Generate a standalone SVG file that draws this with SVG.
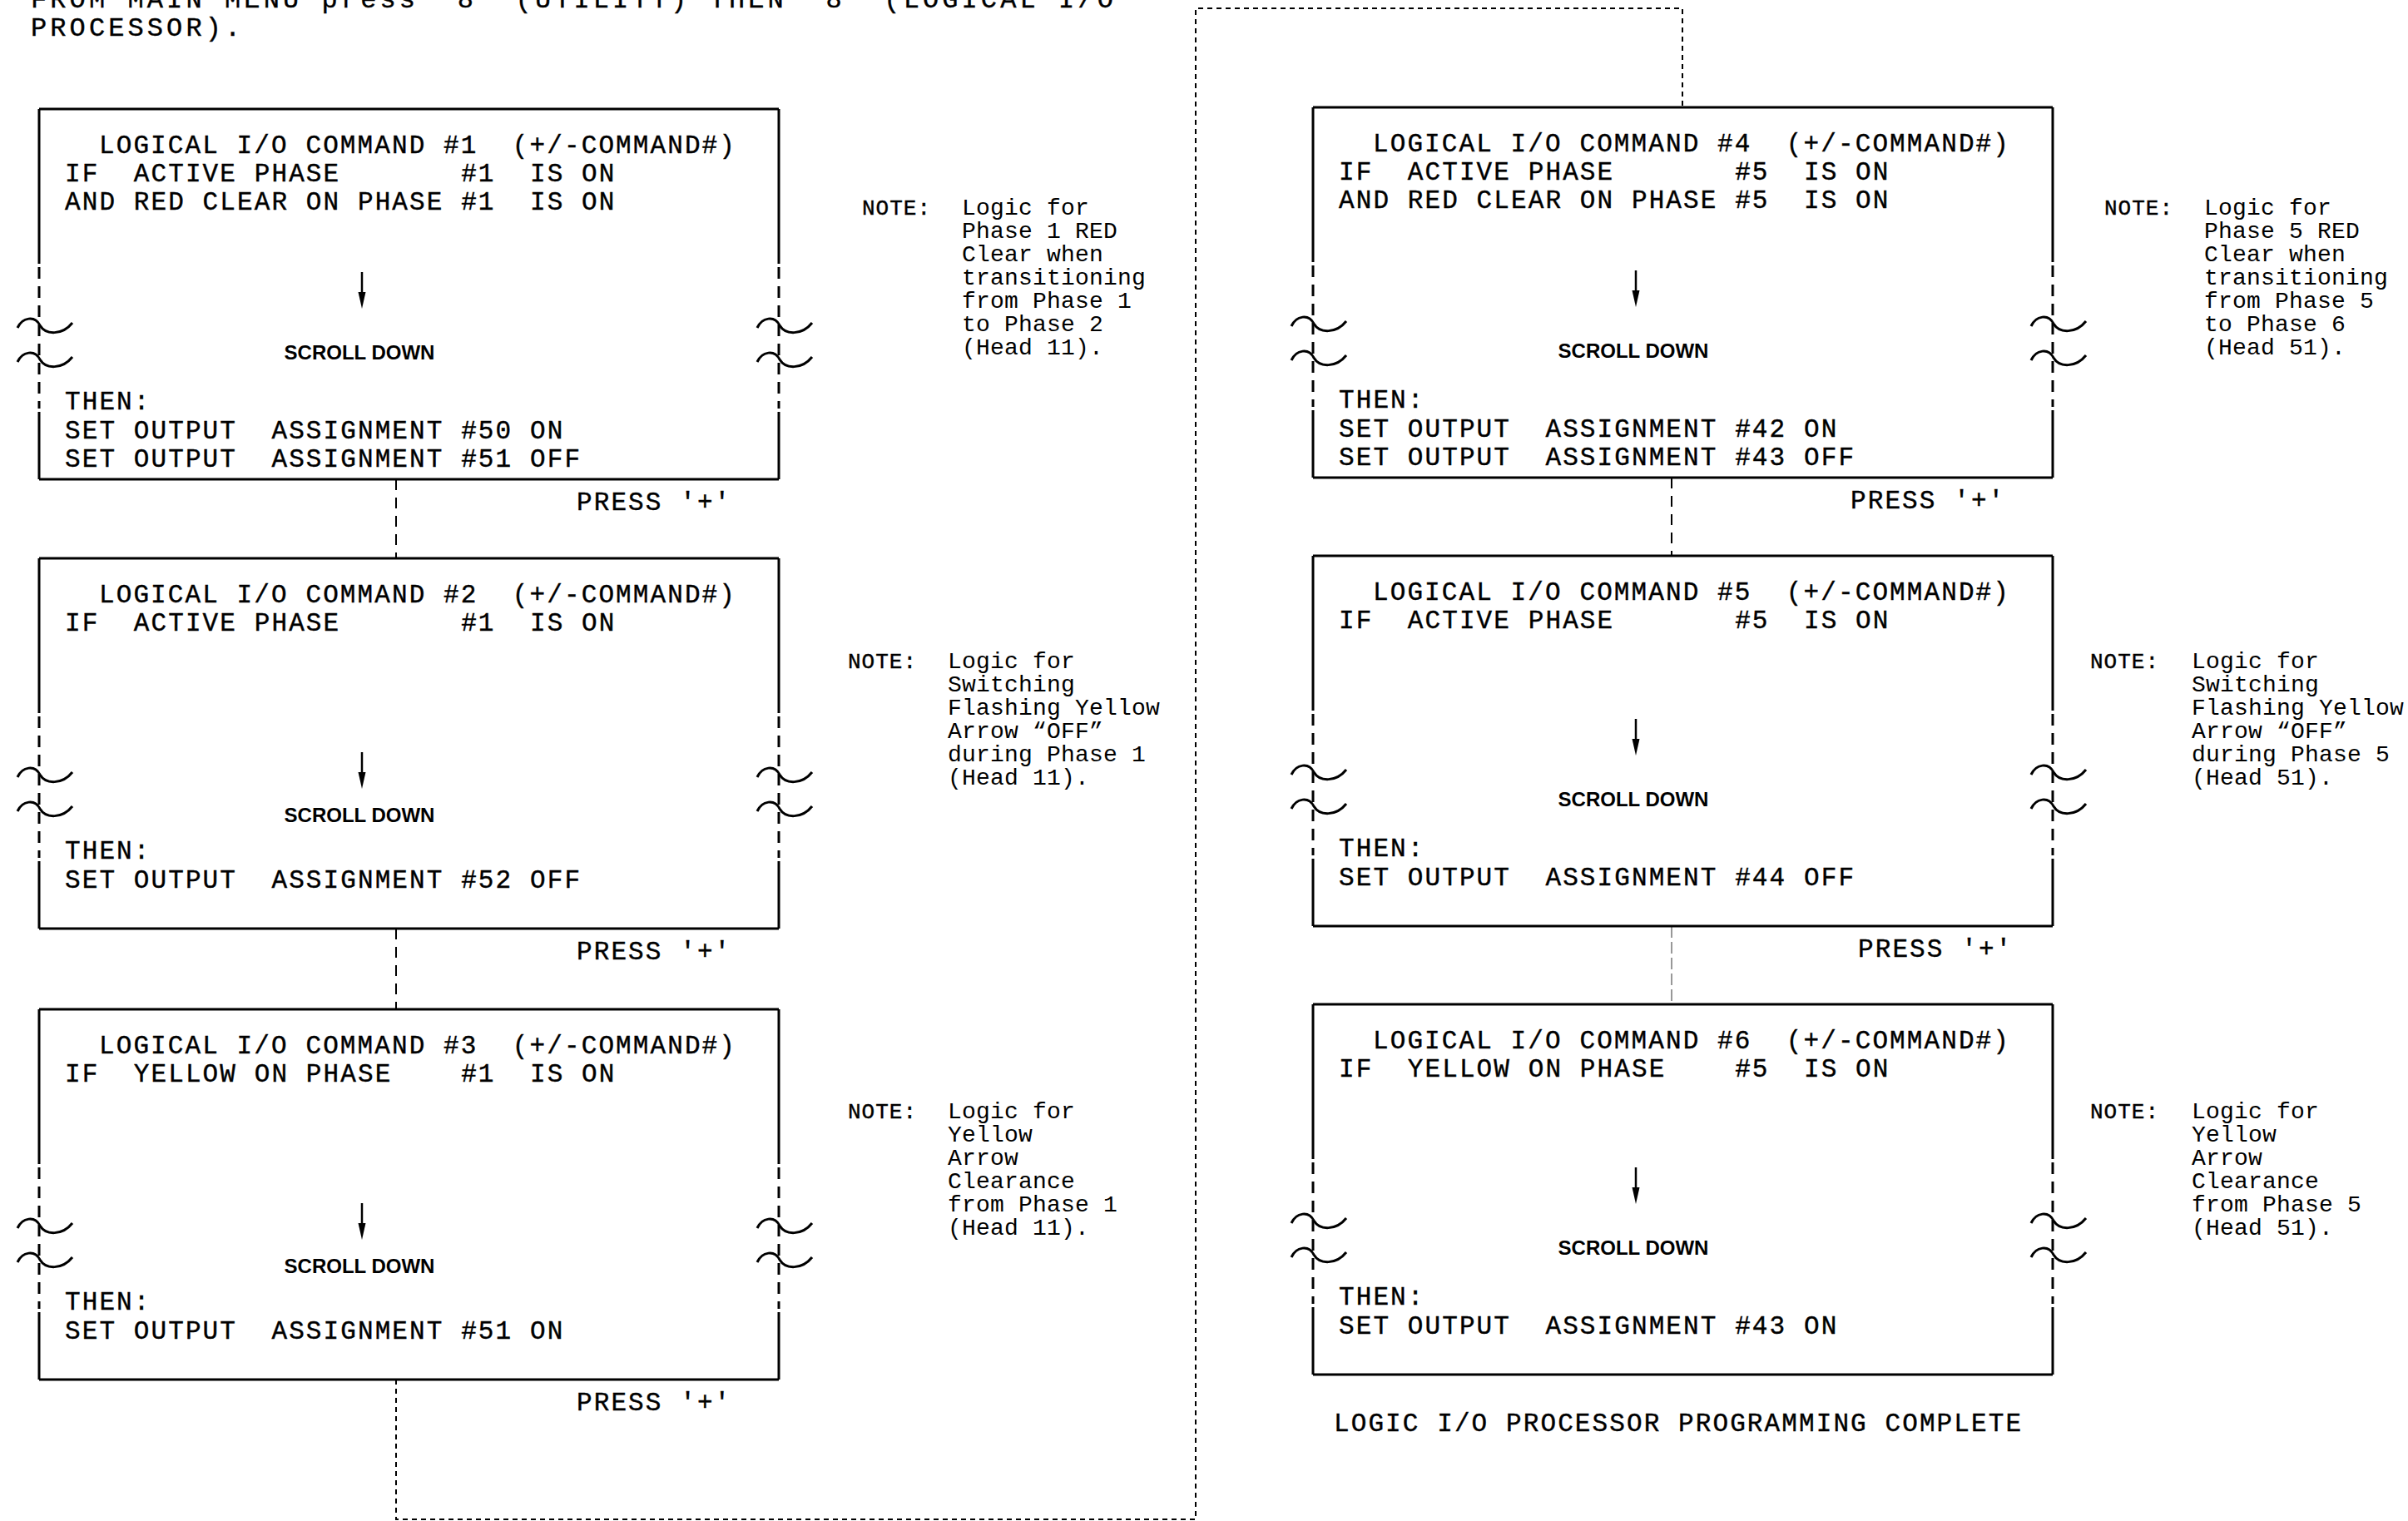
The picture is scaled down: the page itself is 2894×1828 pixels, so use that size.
<svg xmlns="http://www.w3.org/2000/svg" xmlns:xlink="http://www.w3.org/1999/xlink" width="2894" height="1828" viewBox="0 0 2894 1828" xml:space="preserve">
<style>
.ln{fill:none;stroke:#000;stroke-width:3}
.dsh{fill:none;stroke:#000;stroke-width:3;stroke-dasharray:14 9}
.t{font-family:"Liberation Mono","DejaVu Sans Mono",monospace;font-size:31px;letter-spacing:2.1px;fill:#000;stroke:#000;stroke-width:0.4px;white-space:pre}
.hd{font-family:"Liberation Mono","DejaVu Sans Mono",monospace;font-size:32px;letter-spacing:4.1px;fill:#000;stroke:#000;stroke-width:0.4px;white-space:pre}
.sd{font-family:"Liberation Sans",Arial,sans-serif;font-weight:bold;font-size:24px;fill:#000;text-anchor:middle}
.n{font-family:"Liberation Mono","DejaVu Sans Mono",monospace;font-size:28px;letter-spacing:0.2px;fill:#000;white-space:pre}
.nh{font-family:"Liberation Mono","DejaVu Sans Mono",monospace;font-size:26px;letter-spacing:1px;fill:#000;stroke:#000;stroke-width:0.4px}
.c{fill:none;stroke:#000;stroke-width:2;stroke-dasharray:13 9}
.cd{fill:none;stroke:#000;stroke-width:2;stroke-dasharray:6 5}
.cg{fill:none;stroke:#777;stroke-width:1.5;stroke-dasharray:14 5}
</style>
<defs>
<path id="tl" d="M-26,3 C-20,-10 -5,-12 1,0 C8,12 28,12 40,-3" class="ln"/>
<g id="frame">
<path class="ln" d="M0,0 H889 M0,445 H889 M0,0 V186 M0,364 V445 M889,0 V186 M889,364 V445"/>
<path class="dsh" d="M0,190 V360 M889,190 V360"/>
<use xlink:href="#tl" x="0" y="260"/>
<use xlink:href="#tl" x="0" y="301"/>
<use xlink:href="#tl" x="889" y="260"/>
<use xlink:href="#tl" x="889" y="301"/>
</g>
<g id="arrow">
<path d="M0,0 V27" stroke="#000" stroke-width="2.5" fill="none"/>
<polygon points="-4.5,24 4.5,24 0,44" fill="#000"/>
</g>
</defs>

<g id="heading">
<text class="hd" x="37" y="9">FROM MAIN MENU press '8' (UTILITY) THEN '8' (LOGICAL I/O</text>
<text class="hd" x="37" y="43">PROCESSOR).</text>
</g>

<g id="connectors">
<path class="c" d="M476,576 V671"/>
<path class="c" d="M476,1116 V1213"/>
<path class="cd" d="M476,1658 V1826 H1437 V10 H2022 V129"/>
<path class="c" d="M2009,574 V668"/>
<path class="cg" d="M2009,1113 V1207"/>
</g>

<g id="cmd1">
<use xlink:href="#frame" x="47" y="131"/>
<text class="t" x="119" y="184">LOGICAL I/O COMMAND #1  (+/-COMMAND#)</text>
<text class="t" x="78" y="218">IF  ACTIVE PHASE       #1  IS ON</text>
<text class="t" x="78" y="252">AND RED CLEAR ON PHASE #1  IS ON</text>
<use xlink:href="#arrow" x="435" y="327"/>
<text class="sd" x="432" y="432">SCROLL DOWN</text>
<text class="t" x="78" y="492">THEN:</text>
<text class="t" x="78" y="527">SET OUTPUT  ASSIGNMENT #50 ON</text>
<text class="t" x="78" y="561">SET OUTPUT  ASSIGNMENT #51 OFF</text>
</g>

<g id="cmd2">
<use xlink:href="#frame" x="47" y="671"/>
<text class="t" x="119" y="724">LOGICAL I/O COMMAND #2  (+/-COMMAND#)</text>
<text class="t" x="78" y="758">IF  ACTIVE PHASE       #1  IS ON</text>
<use xlink:href="#arrow" x="435" y="904"/>
<text class="sd" x="432" y="988">SCROLL DOWN</text>
<text class="t" x="78" y="1032">THEN:</text>
<text class="t" x="78" y="1067">SET OUTPUT  ASSIGNMENT #52 OFF</text>
</g>

<g id="cmd3">
<use xlink:href="#frame" x="47" y="1213"/>
<text class="t" x="119" y="1266">LOGICAL I/O COMMAND #3  (+/-COMMAND#)</text>
<text class="t" x="78" y="1300">IF  YELLOW ON PHASE    #1  IS ON</text>
<use xlink:href="#arrow" x="435" y="1446"/>
<text class="sd" x="432" y="1530">SCROLL DOWN</text>
<text class="t" x="78" y="1574">THEN:</text>
<text class="t" x="78" y="1609">SET OUTPUT  ASSIGNMENT #51 ON</text>
</g>

<g id="cmd4">
<use xlink:href="#frame" x="1578" y="129"/>
<text class="t" x="1650" y="182">LOGICAL I/O COMMAND #4  (+/-COMMAND#)</text>
<text class="t" x="1609" y="216">IF  ACTIVE PHASE       #5  IS ON</text>
<text class="t" x="1609" y="250">AND RED CLEAR ON PHASE #5  IS ON</text>
<use xlink:href="#arrow" x="1966" y="325"/>
<text class="sd" x="1963" y="430">SCROLL DOWN</text>
<text class="t" x="1609" y="490">THEN:</text>
<text class="t" x="1609" y="525">SET OUTPUT  ASSIGNMENT #42 ON</text>
<text class="t" x="1609" y="559">SET OUTPUT  ASSIGNMENT #43 OFF</text>
</g>

<g id="cmd5">
<use xlink:href="#frame" x="1578" y="668"/>
<text class="t" x="1650" y="721">LOGICAL I/O COMMAND #5  (+/-COMMAND#)</text>
<text class="t" x="1609" y="755">IF  ACTIVE PHASE       #5  IS ON</text>
<use xlink:href="#arrow" x="1966" y="864"/>
<text class="sd" x="1963" y="969">SCROLL DOWN</text>
<text class="t" x="1609" y="1029">THEN:</text>
<text class="t" x="1609" y="1064">SET OUTPUT  ASSIGNMENT #44 OFF</text>
</g>

<g id="cmd6">
<use xlink:href="#frame" x="1578" y="1207"/>
<text class="t" x="1650" y="1260">LOGICAL I/O COMMAND #6  (+/-COMMAND#)</text>
<text class="t" x="1609" y="1294">IF  YELLOW ON PHASE    #5  IS ON</text>
<use xlink:href="#arrow" x="1966" y="1403"/>
<text class="sd" x="1963" y="1508">SCROLL DOWN</text>
<text class="t" x="1609" y="1568">THEN:</text>
<text class="t" x="1609" y="1603">SET OUTPUT  ASSIGNMENT #43 ON</text>
</g>

<g id="press">
<text class="t" x="693" y="613">PRESS '+'</text>
<text class="t" x="693" y="1153">PRESS '+'</text>
<text class="t" x="693" y="1695">PRESS '+'</text>
<text class="t" x="2224" y="611">PRESS '+'</text>
<text class="t" x="2233" y="1150">PRESS '+'</text>
<text class="t" x="1603" y="1720">LOGIC I/O PROCESSOR PROGRAMMING COMPLETE</text>
</g>

<g id="note1">
<text class="nh" x="1036" y="258">NOTE:</text>
<text class="n" x="1156" y="258">Logic for</text>
<text class="n" x="1156" y="286">Phase 1 RED</text>
<text class="n" x="1156" y="314">Clear when</text>
<text class="n" x="1156" y="342">transitioning</text>
<text class="n" x="1156" y="370">from Phase 1</text>
<text class="n" x="1156" y="398">to Phase 2</text>
<text class="n" x="1156" y="426">(Head 11).</text>
</g>

<g id="note2">
<text class="nh" x="1019" y="803">NOTE:</text>
<text class="n" x="1139" y="803">Logic for</text>
<text class="n" x="1139" y="831">Switching</text>
<text class="n" x="1139" y="859">Flashing Yellow</text>
<text class="n" x="1139" y="887">Arrow “OFF”</text>
<text class="n" x="1139" y="915">during Phase 1</text>
<text class="n" x="1139" y="943">(Head 11).</text>
</g>

<g id="note3">
<text class="nh" x="1019" y="1344">NOTE:</text>
<text class="n" x="1139" y="1344">Logic for</text>
<text class="n" x="1139" y="1372">Yellow</text>
<text class="n" x="1139" y="1400">Arrow</text>
<text class="n" x="1139" y="1428">Clearance</text>
<text class="n" x="1139" y="1456">from Phase 1</text>
<text class="n" x="1139" y="1484">(Head 11).</text>
</g>

<g id="note4">
<text class="nh" x="2529" y="258">NOTE:</text>
<text class="n" x="2649" y="258">Logic for</text>
<text class="n" x="2649" y="286">Phase 5 RED</text>
<text class="n" x="2649" y="314">Clear when</text>
<text class="n" x="2649" y="342">transitioning</text>
<text class="n" x="2649" y="370">from Phase 5</text>
<text class="n" x="2649" y="398">to Phase 6</text>
<text class="n" x="2649" y="426">(Head 51).</text>
</g>

<g id="note5">
<text class="nh" x="2512" y="803">NOTE:</text>
<text class="n" x="2634" y="803">Logic for</text>
<text class="n" x="2634" y="831">Switching</text>
<text class="n" x="2634" y="859">Flashing Yellow</text>
<text class="n" x="2634" y="887">Arrow “OFF”</text>
<text class="n" x="2634" y="915">during Phase 5</text>
<text class="n" x="2634" y="943">(Head 51).</text>
</g>

<g id="note6">
<text class="nh" x="2512" y="1344">NOTE:</text>
<text class="n" x="2634" y="1344">Logic for</text>
<text class="n" x="2634" y="1372">Yellow</text>
<text class="n" x="2634" y="1400">Arrow</text>
<text class="n" x="2634" y="1428">Clearance</text>
<text class="n" x="2634" y="1456">from Phase 5</text>
<text class="n" x="2634" y="1484">(Head 51).</text>
</g>
</svg>
